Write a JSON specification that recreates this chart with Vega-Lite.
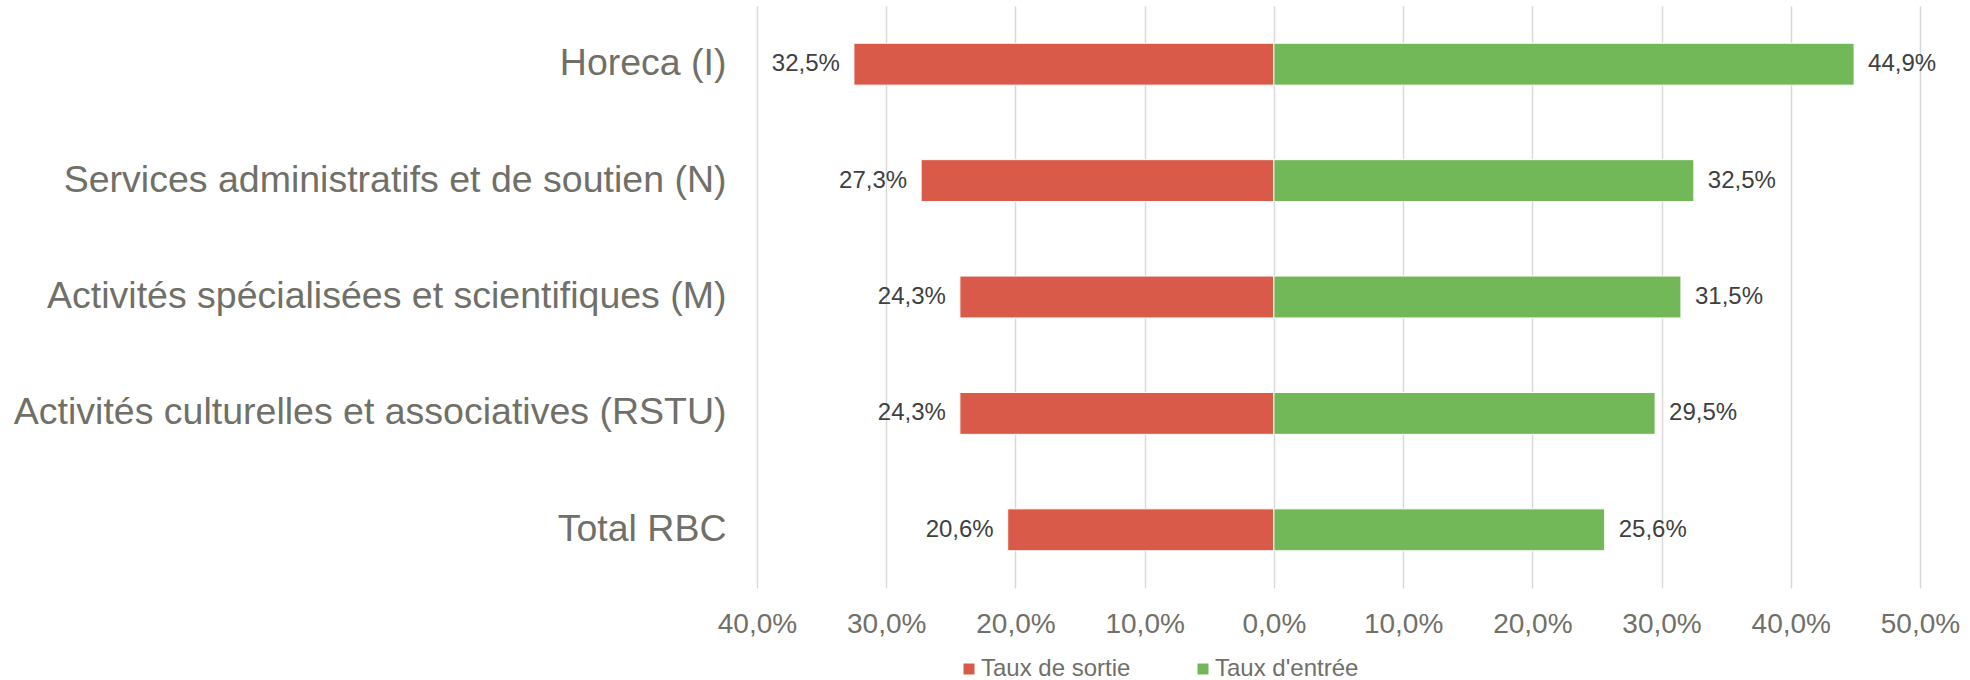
{
  "$schema": "https://vega.github.io/schema/vega-lite/v6.json",
  "width": 1163,
  "height": 582,
  "autosize": {"type": "none"},
  "padding": {"left": 757, "top": 6, "right": 50, "bottom": 92},
  "background": "white",
  "config": {"view": {"stroke": null}, "font": "Liberation Sans"},
  "data": {
    "values": [
      {"secteur": "Horeca (I)", "type": "Taux de sortie", "valeur": -32.5},
      {"secteur": "Horeca (I)", "type": "Taux d'entrée", "valeur": 44.9},
      {"secteur": "Services administratifs et de soutien (N)", "type": "Taux de sortie", "valeur": -27.3},
      {"secteur": "Services administratifs et de soutien (N)", "type": "Taux d'entrée", "valeur": 32.5},
      {"secteur": "Activités spécialisées et scientifiques (M)", "type": "Taux de sortie", "valeur": -24.3},
      {"secteur": "Activités spécialisées et scientifiques (M)", "type": "Taux d'entrée", "valeur": 31.5},
      {"secteur": "Activités culturelles et associatives (RSTU)", "type": "Taux de sortie", "valeur": -24.3},
      {"secteur": "Activités culturelles et associatives (RSTU)", "type": "Taux d'entrée", "valeur": 29.5},
      {"secteur": "Total RBC", "type": "Taux de sortie", "valeur": -20.6},
      {"secteur": "Total RBC", "type": "Taux d'entrée", "valeur": 25.6}
    ]
  },
  "encoding": {
    "y": {
      "field": "secteur",
      "type": "nominal",
      "sort": ["Horeca (I)", "Services administratifs et de soutien (N)", "Activités spécialisées et scientifiques (M)", "Activités culturelles et associatives (RSTU)", "Total RBC"],
      "scale": {"paddingInner": 0.64, "paddingOuter": 0.32},
      "axis": {"title": null, "ticks": false, "domain": false, "grid": false, "labelFontSize": 37.5, "labelColor": "#707068", "labelPadding": 31, "labelLimit": 900}
    },
    "x": {
      "field": "valeur",
      "type": "quantitative",
      "scale": {"domain": [-40, 50], "nice": false},
      "axis": {
        "title": null,
        "values": [-40, -30, -20, -10, 0, 10, 20, 30, 40, 50],
        "labelExpr": "replace(format(abs(datum.value), '.1f'), '.', ',') + '%'",
        "labelFlush": false,
        "labelOverlap": false,
        "grid": true,
        "gridColor": "#d9d9d9",
        "gridWidth": 1.5,
        "ticks": false,
        "domain": false,
        "labelFontSize": 28,
        "labelColor": "#707068",
        "labelPadding": 22
      }
    }
  },
  "layer": [
    {
      "mark": {"type": "bar", "stroke": "white", "strokeWidth": 1},
      "encoding": {
        "color": {
          "field": "type",
          "type": "nominal",
          "scale": {"domain": ["Taux de sortie", "Taux d'entrée"], "range": ["#DA5A4A", "#73B858"]},
          "legend": {
            "title": null,
            "orient": "none",
            "direction": "horizontal",
            "legendX": 200,
            "legendY": 651,
            "padding": 0,
            "symbolType": "square",
            "symbolSize": 121,
            "symbolStrokeWidth": 0,
            "symbolOpacity": 1,
            "labelFontSize": 24,
            "labelColor": "#707068",
            "labelOffset": 0,
            "columnPadding": 60,
            "labelLimit": 400
          }
        }
      }
    },
    {
      "transform": [{"filter": "datum.valeur < 0"}],
      "mark": {"type": "text", "align": "right", "baseline": "middle", "dx": -14, "fontSize": 24, "color": "#404040", "text": {"expr": "replace(format(abs(datum.valeur), '.1f'), '.', ',') + '%'"}}
    },
    {
      "transform": [{"filter": "datum.valeur >= 0"}],
      "mark": {"type": "text", "align": "left", "baseline": "middle", "dx": 14, "fontSize": 24, "color": "#404040", "text": {"expr": "replace(format(abs(datum.valeur), '.1f'), '.', ',') + '%'"}}
    }
  ]
}
